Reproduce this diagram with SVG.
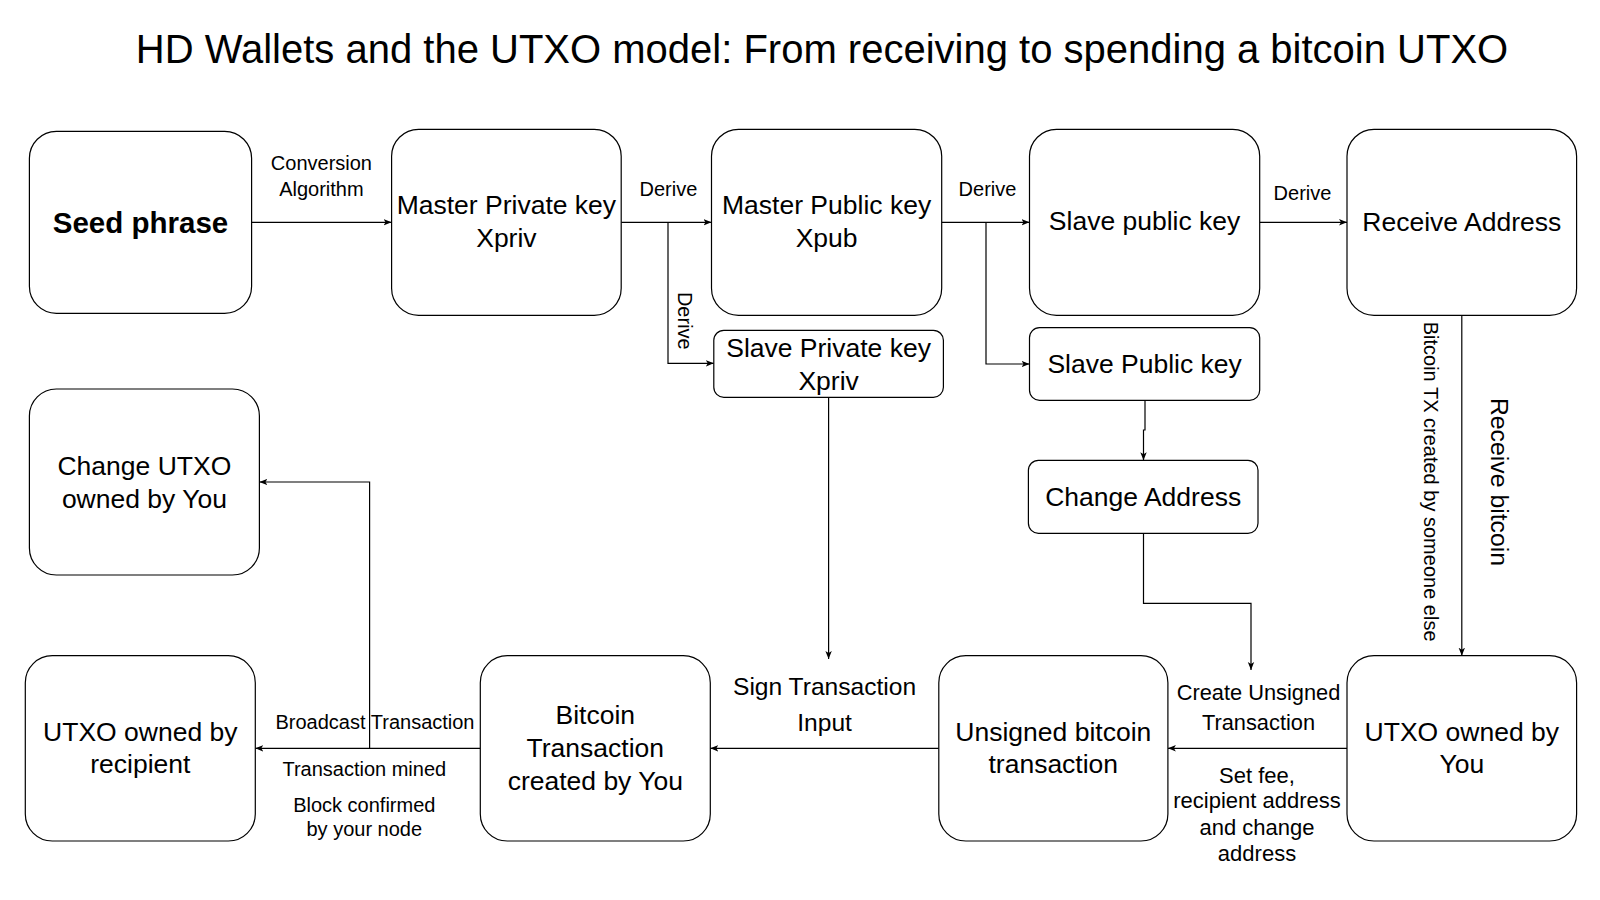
<svg xmlns="http://www.w3.org/2000/svg" width="1600" height="900" viewBox="0 0 1600 900">
<style>
.n{fill:#fff;stroke:#000;stroke-width:1.2}
.t{font-family:"Liberation Sans",Arial,sans-serif;font-size:26.5px;fill:#000;text-anchor:middle;dominant-baseline:central}
.b{font-weight:bold;font-size:29.5px}
.l{font-family:"Liberation Sans",Arial,sans-serif;font-size:20px;fill:#000;text-anchor:middle;dominant-baseline:central}
.c{fill:none;stroke:#000;stroke-width:1.2}
.a{marker-end:url(#arr)}
</style>
<defs>
<marker id="arr" viewBox="0 0 10 10" refX="10" refY="5" markerWidth="8" markerHeight="8" markerUnits="userSpaceOnUse" orient="auto">
<path d="M0,1 L10,5 L0,9 L2.5,5 z" fill="#000"/>
</marker>
</defs>
<rect width="1600" height="900" fill="#fff"/>
<text x="822" y="49" font-family="Liberation Sans, Arial, sans-serif" font-size="40" text-anchor="middle" dominant-baseline="central">HD Wallets and the UTXO model: From receiving to spending a bitcoin UTXO</text>

<g id="connectors">
<path class="c a" d="M251.6,222.3 H391.6"/>
<path class="c a" d="M621.2,222.3 H711.5"/>
<path class="c a" d="M668,222.3 V363.3 H713.8"/>
<path class="c a" d="M941.7,222.3 H1029.5"/>
<path class="c a" d="M986,222.3 V364 H1029.5"/>
<path class="c a" d="M1259.7,222.3 H1347"/>
<path class="c a" d="M1461.8,315.3 V655.7"/>
<path class="c a" d="M1145,400.3 V430 H1143.5 V460.3"/>
<path class="c a" d="M1143.5,533.3 V603.3 H1251 V670"/>
<path class="c a" d="M828.6,397.3 V659"/>
<path class="c a" d="M1347,748.3 H1167.9"/>
<path class="c a" d="M938.8,748.3 H710.3"/>
<path class="c a" d="M480.3,748.3 H255.3"/>
<path class="c a" d="M369.6,748.3 V482 H259.4"/>

<text class="l" x="321.4" y="163">Conversion</text>
<text class="l" x="321.4" y="189">Algorithm</text>
<text class="l" x="668.4" y="189">Derive</text>
<text class="l" transform="translate(684.5,320.8) rotate(90)">Derive</text>
<text class="l" x="987.5" y="189.3">Derive</text>
<text class="l" x="1302.5" y="193">Derive</text>
<text class="l" transform="translate(1430.6,481.6) rotate(90)">Bitcoin TX created by someone else</text>
<text class="l" style="font-size:24.8px" transform="translate(1499,482) rotate(90)">Receive bitcoin</text>
<text class="l" style="font-size:24.6px" x="824.6" y="686.7">Sign Transaction</text>
<text class="l" style="font-size:24.6px" x="824.6" y="722.3">Input</text>
<text class="l" style="font-size:21.8px" x="1258.5" y="692.3">Create Unsigned</text>
<text class="l" style="font-size:21.8px" x="1258.5" y="722.7">Transaction</text>
<text class="l" style="font-size:22px" x="1257" y="775">Set fee,</text>
<text class="l" style="font-size:22px" x="1257" y="800.7">recipient address</text>
<text class="l" style="font-size:22px" x="1257" y="827.5">and change</text>
<text class="l" style="font-size:22px" x="1257" y="853.3">address</text>
<text class="l" x="375" y="722">Broadcast Transaction</text>
<text class="l" x="364.3" y="768.7">Transaction mined</text>
<text class="l" x="364.3" y="804.7">Block confirmed</text>
<text class="l" x="364.3" y="829">by your node</text>
</g>

<g id="seed"><rect class="n" x="29.4" y="131.3" width="222.2" height="182" rx="27"/><text class="t b" x="140.5" y="222.3">Seed phrase</text></g>
<g id="master-private"><rect class="n" x="391.6" y="129.3" width="229.6" height="186" rx="27"/><text class="t" x="506.4" y="205.1">Master Private key</text><text class="t" x="506.4" y="237.8">Xpriv</text></g>
<g id="master-public"><rect class="n" x="711.5" y="129.3" width="230.2" height="186" rx="27"/><text class="t" x="826.6" y="205.1">Master Public key</text><text class="t" x="826.6" y="237.8">Xpub</text></g>
<g id="slave-public-1"><rect class="n" x="1029.5" y="129.3" width="230.2" height="186" rx="27"/><text class="t" x="1144.6" y="221.4">Slave public key</text></g>
<g id="receive-address"><rect class="n" x="1347" y="129.3" width="229.6" height="186" rx="27"/><text class="t" x="1461.8" y="222">Receive Address</text></g>
<g id="slave-private"><rect class="n" x="713.8" y="330.3" width="229.6" height="67" rx="10"/><text class="t" x="828.6" y="348">Slave Private key</text><text class="t" x="828.6" y="380.6">Xpriv</text></g>
<g id="slave-public-2"><rect class="n" x="1029.5" y="327.7" width="230.2" height="72.6" rx="10"/><text class="t" x="1144.6" y="364.3">Slave Public key</text></g>
<g id="change-address"><rect class="n" x="1028.4" y="460.3" width="229.6" height="73" rx="10"/><text class="t" x="1143.2" y="497">Change Address</text></g>
<g id="change-utxo"><rect class="n" x="29.4" y="389" width="230" height="186" rx="27"/><text class="t" x="144.4" y="466.3">Change UTXO</text><text class="t" x="144.4" y="499">owned by You</text></g>
<g id="utxo-recipient"><rect class="n" x="25.3" y="655.7" width="230" height="185.3" rx="27"/><text class="t" x="140.3" y="731.6">UTXO owned by</text><text class="t" x="140.3" y="764.3">recipient</text></g>
<g id="bitcoin-tx"><rect class="n" x="480.3" y="655.7" width="230" height="185.3" rx="27"/><text class="t" x="595.3" y="715.3">Bitcoin</text><text class="t" x="595.3" y="748">Transaction</text><text class="t" x="595.3" y="780.6">created by You</text></g>
<g id="unsigned-tx"><rect class="n" x="938.8" y="655.7" width="229.1" height="185.3" rx="27"/><text class="t" x="1053.3" y="731.6">Unsigned bitcoin</text><text class="t" x="1053.3" y="764.3">transaction</text></g>
<g id="utxo-you"><rect class="n" x="1347" y="655.7" width="229.6" height="185.3" rx="27"/><text class="t" x="1461.8" y="731.6">UTXO owned by</text><text class="t" x="1461.8" y="764.3">You</text></g>
</svg>
